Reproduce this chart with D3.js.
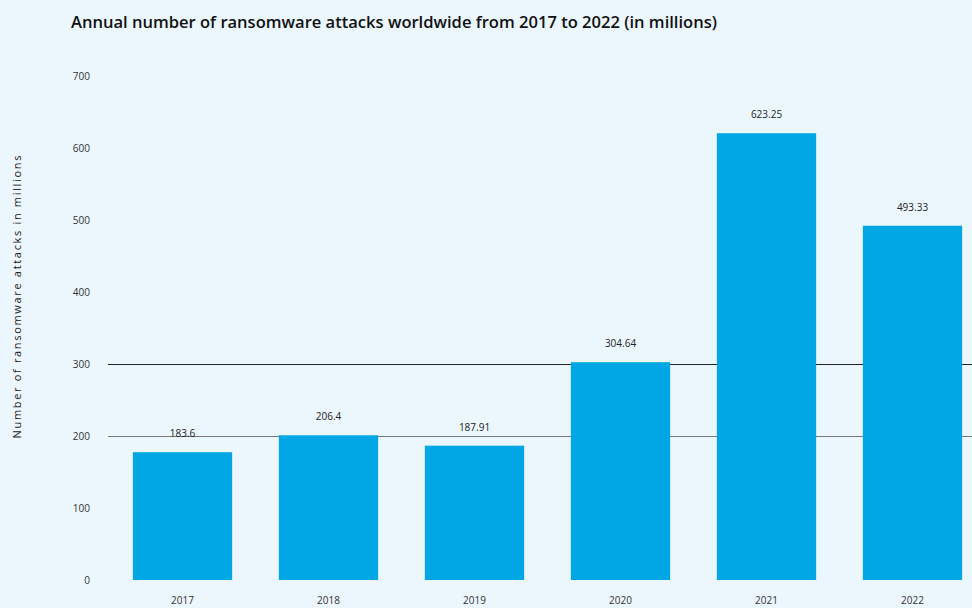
<!DOCTYPE html>
<html><head><meta charset="utf-8">
<script src="https://cdn.jsdelivr.net/npm/d3@7"></script>
<style>html,body{margin:0;padding:0;background:#ebf6fd;}svg{display:block;}</style>
</head><body>
<script>
const years = ["2017","2018","2019","2020","2021","2022"];
const attacks = [177.5, 201, 186.5, 302.5, 620.5, 492];
const valueLabels = ["183.6","206.4","187.91","304.64","623.25","493.33"];
const yTicks = [0,100,200,300,400,500,600,700];

const W = 972, H = 608;
const svg = d3.select("body").append("svg").attr("width", W).attr("height", H);
svg.append("rect").attr("width", W).attr("height", H).attr("fill", "#ebf6fd");

const x = d3.scaleBand().domain(years).range([109.5, 985.5]).paddingInner(0.32).paddingOuter(0.16);
const y = d3.scaleLinear().domain([0, 700]).range([580, 76]);

svg.append("text").attr("x", 71).attr("y", 28)
  .attr("font-family", "Open Sans, sans-serif").attr("font-weight", 600).attr("font-size", 15.5)
  .attr("textLength", 646).attr("lengthAdjust", "spacingAndGlyphs")
  .attr("fill", "#111").text("Annual number of ransomware attacks worldwide from 2017 to 2022 (in millions)");

// gridlines (only visible ones)
const gridColors = {300: "#222", 200: "#777"};
[300, 200].forEach(v => {
  svg.append("line").attr("x1", 108).attr("x2", W).attr("y1", Math.round(y(v)) + 0.5).attr("y2", Math.round(y(v)) + 0.5)
    .attr("stroke", gridColors[v]).attr("stroke-width", 1);
});

// y axis
const yAxis = d3.axisLeft(y).tickValues(yTicks).tickSize(0).tickPadding(0);
const gy = svg.append("g").attr("transform", "translate(90,0)").call(yAxis);
gy.select(".domain").remove();
gy.selectAll("text").attr("font-family", "Open Sans, sans-serif").attr("font-size", 10).attr("fill", "#333");

// y title
svg.append("text").attr("transform", "translate(21,297) rotate(-90)").attr("text-anchor", "middle")
  .attr("font-family", "Open Sans, sans-serif").attr("font-size", 11).attr("fill", "#222")
  .attr("textLength", 283).attr("lengthAdjust", "spacing")
  .text("Number of ransomware attacks in millions");

// bars
svg.selectAll("rect.bar").data(years).join("rect").attr("class", "bar")
  .attr("x", d => x(d)).attr("width", x.bandwidth())
  .attr("y", (d, i) => y(attacks[i])).attr("height", (d, i) => y(0) - y(attacks[i]))
  .attr("fill", "#00a7e4");

svg.selectAll("text.vl").data(years).join("text").attr("class", "vl")
  .attr("x", d => x(d) + x.bandwidth() / 2).attr("y", (d, i) => y(attacks[i]) - 15)
  .attr("text-anchor", "middle").attr("font-family", "Open Sans, sans-serif").attr("font-size", 10).attr("fill", "#222")
  .text((d, i) => valueLabels[i]);

// x axis
const xAxis = d3.axisBottom(x).tickSize(0).tickPadding(0);
const gx = svg.append("g").attr("transform", "translate(0,597)").call(xAxis);
gx.select(".domain").remove();
gx.selectAll("text").attr("font-family", "Open Sans, sans-serif").attr("font-size", 10).attr("fill", "#333");
</script>
</body></html>
